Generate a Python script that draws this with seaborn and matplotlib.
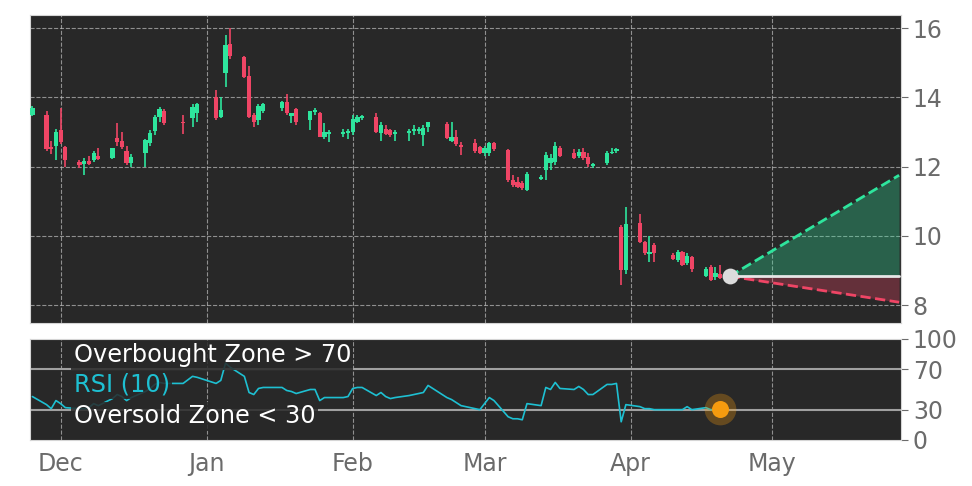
import numpy as np
import pandas as pd
import matplotlib
matplotlib.use("Agg")
import matplotlib.pyplot as plt
import matplotlib.dates as mdates
import seaborn as sns

# ---------------- data ----------------
dates_nov = ["2022-11-25", "2022-11-28", "2022-11-29", "2022-11-30"]
dates_dec = ["2022-12-01", "2022-12-02", "2022-12-05", "2022-12-06", "2022-12-07", "2022-12-08",
             "2022-12-09", "2022-12-12", "2022-12-13", "2022-12-14", "2022-12-15", "2022-12-16",
             "2022-12-19", "2022-12-20", "2022-12-21", "2022-12-22", "2022-12-23", "2022-12-27",
             "2022-12-29", "2022-12-30"]
dates_jan = ["2023-01-03", "2023-01-04", "2023-01-05", "2023-01-06", "2023-01-09", "2023-01-10",
             "2023-01-11", "2023-01-12", "2023-01-13", "2023-01-17", "2023-01-18", "2023-01-19",
             "2023-01-20", "2023-01-23", "2023-01-24", "2023-01-25", "2023-01-26", "2023-01-27",
             "2023-01-30", "2023-01-31"]
dates_feb = ["2023-02-01", "2023-02-02", "2023-02-03", "2023-02-06", "2023-02-07", "2023-02-08",
             "2023-02-09", "2023-02-10", "2023-02-13", "2023-02-14", "2023-02-15", "2023-02-16",
             "2023-02-17", "2023-02-21", "2023-02-22", "2023-02-23", "2023-02-24", "2023-02-27",
             "2023-02-28"]
dates_mar = ["2023-03-01", "2023-03-02", "2023-03-03", "2023-03-06", "2023-03-07", "2023-03-08",
             "2023-03-09", "2023-03-10", "2023-03-13", "2023-03-14", "2023-03-15", "2023-03-16",
             "2023-03-17", "2023-03-20", "2023-03-21", "2023-03-22", "2023-03-23", "2023-03-24",
             "2023-03-27", "2023-03-28", "2023-03-29", "2023-03-30", "2023-03-31"]
dates_apr = ["2023-04-03", "2023-04-04", "2023-04-05", "2023-04-06", "2023-04-10", "2023-04-11",
             "2023-04-12", "2023-04-13", "2023-04-14", "2023-04-17", "2023-04-18", "2023-04-19",
             "2023-04-20"]

open_ = [13.50, 13.50, 12.58, 12.60,
         13.05, 12.57, 12.13, 12.07, 12.15, 12.20, 12.32, 12.25, 12.83, 12.74, 12.45, 12.10,
         12.40, 12.68, 13.03, 13.43, 13.60, 13.30, 13.40, 13.55,
         14.00, 13.43, 14.70, 15.54, 15.17, 14.62, 13.50, 13.35, 13.60, 13.70, 13.87, 13.46,
         13.66, 13.35, 13.58, 13.55, 12.86, 12.95, 12.95, 12.98,
         13.00, 13.30, 13.40, 13.43, 12.97, 13.10, 13.06, 12.94, 12.98, 13.03, 13.02, 12.92,
         13.14, 13.23, 12.74, 12.86, 12.62, 12.68, 12.57,
         12.40, 12.40, 12.68, 12.48, 11.61, 11.55, 11.52, 11.32, 11.64, 11.90, 12.10, 12.13,
         12.54, 12.40, 12.30, 12.42, 12.28, 12.02, 12.10, 12.38, 12.46, 10.25, 9.00,
         10.37, 9.82, 9.48, 9.73, 9.45, 9.30, 9.53, 9.20, 9.39, 8.84, 9.10, 8.80, 8.90]
high = [13.75, 13.62, 12.75, 13.10,
        13.70, 12.60, 12.20, 12.25, 12.30, 12.45, 12.55, 12.54, 13.25, 13.00, 12.60, 12.35,
        12.80, 13.05, 13.50, 13.72, 13.65, 13.50, 13.80, 13.85,
        14.20, 14.00, 15.80, 16.00, 15.20, 14.90, 13.55, 13.80, 13.85, 13.90, 14.10, 13.55,
        13.70, 13.62, 13.70, 13.58, 13.25, 13.05, 13.10, 13.10,
        13.50, 13.50, 13.50, 13.55, 13.30, 13.20, 13.10, 13.05, 13.10, 13.20, 13.15, 13.20,
        13.30, 13.30, 13.30, 13.05, 12.70, 12.80, 12.60,
        12.60, 12.72, 12.72, 12.52, 11.75, 11.70, 11.58, 11.85, 11.75, 12.42, 12.35, 12.70,
        12.60, 12.50, 12.50, 12.55, 12.40, 12.10, 12.45, 12.55, 12.55, 10.30, 10.83,
        10.63, 9.85, 10.00, 9.80, 9.50, 9.60, 9.57, 9.50, 9.42, 9.10, 9.15, 9.10, 9.15]
low = [13.45, 12.45, 12.35, 12.20,
       12.65, 12.00, 11.95, 11.75, 12.05, 12.12, 12.20, 12.22, 12.60, 12.50, 12.05, 12.00,
       12.00, 12.60, 12.90, 13.30, 13.20, 12.95, 13.15, 13.30,
       13.35, 13.40, 14.30, 15.10, 14.55, 13.40, 13.14, 13.20, 13.55, 13.60, 13.50, 13.25,
       13.20, 13.06, 13.50, 12.85, 12.80, 12.70, 12.85, 12.80,
       12.90, 13.25, 13.35, 12.98, 12.75, 12.90, 12.85, 12.75, 12.75, 12.90, 12.95, 12.60,
       13.00, 12.80, 12.70, 12.60, 12.33, 12.40, 12.35,
       12.30, 12.30, 12.45, 11.55, 11.42, 11.38, 11.33, 11.30, 11.60, 11.60, 11.90, 12.05,
       12.28, 12.22, 12.25, 12.20, 12.00, 11.95, 12.05, 12.35, 12.40, 8.58, 8.90,
       9.80, 9.45, 9.25, 9.25, 9.30, 9.25, 9.12, 9.15, 8.95, 8.80, 8.70, 8.72, 8.75]
close = [13.70, 12.50, 12.50, 13.00,
         12.70, 12.20, 12.05, 12.15, 12.07, 12.40, 12.22, 12.54, 12.70, 12.57, 12.10, 12.28,
         12.77, 12.97, 13.43, 13.66, 13.26, 13.25, 13.72, 13.80,
         13.40, 13.64, 15.50, 15.20, 14.59, 13.43, 13.30, 13.75, 13.80, 13.87, 13.55, 13.55,
         13.30, 13.60, 13.62, 12.86, 13.00, 13.00, 12.99, 13.03,
         13.38, 13.43, 13.46, 13.00, 13.20, 12.94, 12.91, 12.97, 13.02, 13.10, 13.08, 13.12,
         13.29, 12.83, 12.86, 12.65, 12.58, 12.45, 12.40,
         12.54, 12.68, 12.50, 11.61, 11.47, 11.41, 11.38, 11.79, 11.70, 12.33, 12.25, 12.60,
         12.30, 12.25, 12.42, 12.25, 12.08, 12.05, 12.40, 12.42, 12.49, 9.00, 10.34,
         9.82, 9.50, 9.52, 9.50, 9.33, 9.53, 9.16, 9.42, 9.04, 9.04, 8.72, 8.92, 8.78]
rsi = [43, 35, 31, 39,
       36, 32, 31, 31, 32, 36, 34, 41, 45, 43, 39, 42, 48, 51, 55, 57, 56, 56, 63, 62,
       56, 59, 76, 72, 63, 47, 45, 51, 52, 52, 49, 48, 46, 50, 50, 39, 42, 42, 42, 43,
       51, 52, 52, 44, 47, 43, 41, 42, 44, 45, 46, 47, 54, 42, 40, 37, 34, 31, 30,
       36, 42, 39, 23, 21, 21, 20, 36, 34, 52, 50, 57, 51, 50, 53, 50, 45, 45, 55, 55, 56, 18, 35,
       33, 31, 31, 30, 30, 30, 30, 33, 30, 32, 30, 30, 31]

proj_dates = ["2023-04-22", "2023-05-28"]
proj_mid = [8.83, 8.83]
proj_up = [8.83, 11.75]
proj_down = [8.83, 8.08]

# ---------------- build frame ----------------
dates = pd.to_datetime(dates_nov + dates_dec + dates_jan + dates_feb + dates_mar + dates_apr)
df = pd.DataFrame({"date": dates, "open": open_, "high": high, "low": low,
                   "close": close, "rsi": rsi})
pdates = pd.to_datetime(proj_dates)

# ---------------- style ----------------
BG = "#282828"
GREEN = "#2ee59d"
RED = "#ef4565"
TICK = "#6b6b6b"
sns.set_style("dark", {"axes.facecolor": BG})
plt.rcParams["font.family"] = ["DejaVu Sans"]

fig = plt.figure(figsize=(9.72, 4.86), dpi=100)
fig.patch.set_facecolor("white")
ax = fig.add_axes([0.0309, 0.3354, 0.8961, 0.6337])
ax2 = fig.add_axes([0.0309, 0.0947, 0.8961, 0.2078], sharex=ax)

# ---------------- candles ----------------
up = df["close"] >= df["open"]
cols = np.where(up, GREEN, RED)
body_lo = np.minimum(df["open"], df["close"])
body_h = np.maximum(np.abs(df["close"] - df["open"]), 0.05)
ax.vlines(df["date"], df["low"], df["high"], colors=cols, linewidth=1.2, zorder=3)
ax.bar(df["date"], body_h, bottom=body_lo, width=0.9, color=cols, linewidth=0, zorder=4)

# ---------------- projection cone ----------------
ax.fill_between(pdates, proj_mid, proj_up, color=GREEN, alpha=0.3, linewidth=0, zorder=2)
ax.fill_between(pdates, proj_mid, proj_down, color=RED, alpha=0.3, linewidth=0, zorder=2)
ax.plot(pdates, proj_up, linestyle="--", color=GREEN, linewidth=2, zorder=3)
ax.plot(pdates, proj_down, linestyle="--", color=RED, linewidth=2, zorder=3)
ax.plot(pdates, proj_mid, color="#e6e6e6", linewidth=2, zorder=3)
ax.scatter([pdates[0]], [proj_mid[0]], s=130, color="#dcdcdc", zorder=6, linewidths=0)

ax.set_ylim(7.48, 16.38)
ax.set_yticks([8, 10, 12, 14, 16])
ax.set_xlim(pd.Timestamp("2022-11-24 12:00"), pd.Timestamp("2023-05-28 10:00"))

# ---------------- RSI ----------------
ax2.axhline(70, color="#a0a0a0", linewidth=1.5, zorder=2)
ax2.axhline(30, color="#a0a0a0", linewidth=1.5, zorder=2)
sns.lineplot(data=df, x="date", y="rsi", ax=ax2, color="#1ec0d2", linewidth=1.2, zorder=3)
last = df.iloc[-1]
ax2.scatter([last["date"]], [last["rsi"]], s=520, color="#f59b0f", alpha=0.3, linewidths=0, zorder=4)
ax2.scatter([last["date"]], [last["rsi"]], s=150, color="#f59b0f", linewidths=0, zorder=5)
ax2.set_ylim(0, 100)
ax2.set_yticks([0, 30, 70, 100])
ax2.set_xlabel("")
ax2.set_ylabel("")

box = dict(boxstyle="square,pad=0.1", facecolor=BG, edgecolor="none", alpha=0.85)
ax2.text(0.05, 0.84, "Overbought Zone > 70", transform=ax2.transAxes, color="white",
         fontsize=17.3, va="center", ha="left", bbox=box, zorder=6)
ax2.text(0.05, 0.545, "RSI (10)", transform=ax2.transAxes, color="#1ec0d2",
         fontsize=17.3, va="center", ha="left", bbox=box, zorder=6)
ax2.text(0.05, 0.235, "Oversold Zone < 30", transform=ax2.transAxes, color="white",
         fontsize=17.3, va="center", ha="left", bbox=box, zorder=6)

# ---------------- axes cosmetics ----------------
minor_days = pd.to_datetime(["2022-11-29", "2022-12-24", "2023-01-18", "2023-02-12",
                             "2023-03-08", "2023-04-03", "2023-04-28", "2023-05-23"])
for a in (ax, ax2):
    a.set_facecolor(BG)
    a.xaxis.set_major_locator(mdates.MonthLocator())
    a.xaxis.set_major_formatter(mdates.DateFormatter("%b"))
    a.set_xticks(minor_days, minor=True)
    a.yaxis.tick_right()
    a.tick_params(axis="both", which="major", direction="out", length=5, width=0.8,
                  colors=TICK, labelsize=17, labelcolor=TICK)
    a.tick_params(axis="x", which="minor", direction="out", length=3, width=0.8, colors=TICK)
    a.grid(True, axis="x", which="major", linestyle="--", color="#bdbdbd", alpha=0.7, linewidth=0.8)
    for s in a.spines.values():
        s.set_visible(True)
        s.set_color("#d5d5d5")
        s.set_linewidth(0.8)
ax.grid(True, axis="y", which="major", linestyle="--", color="#bdbdbd", alpha=0.7, linewidth=0.8)
ax2.grid(False, axis="y")
ax.tick_params(axis="x", labelbottom=False)
ax.set_xlabel("")
ax.set_ylabel("")

fig.savefig("out.png", dpi=100, facecolor="white")
